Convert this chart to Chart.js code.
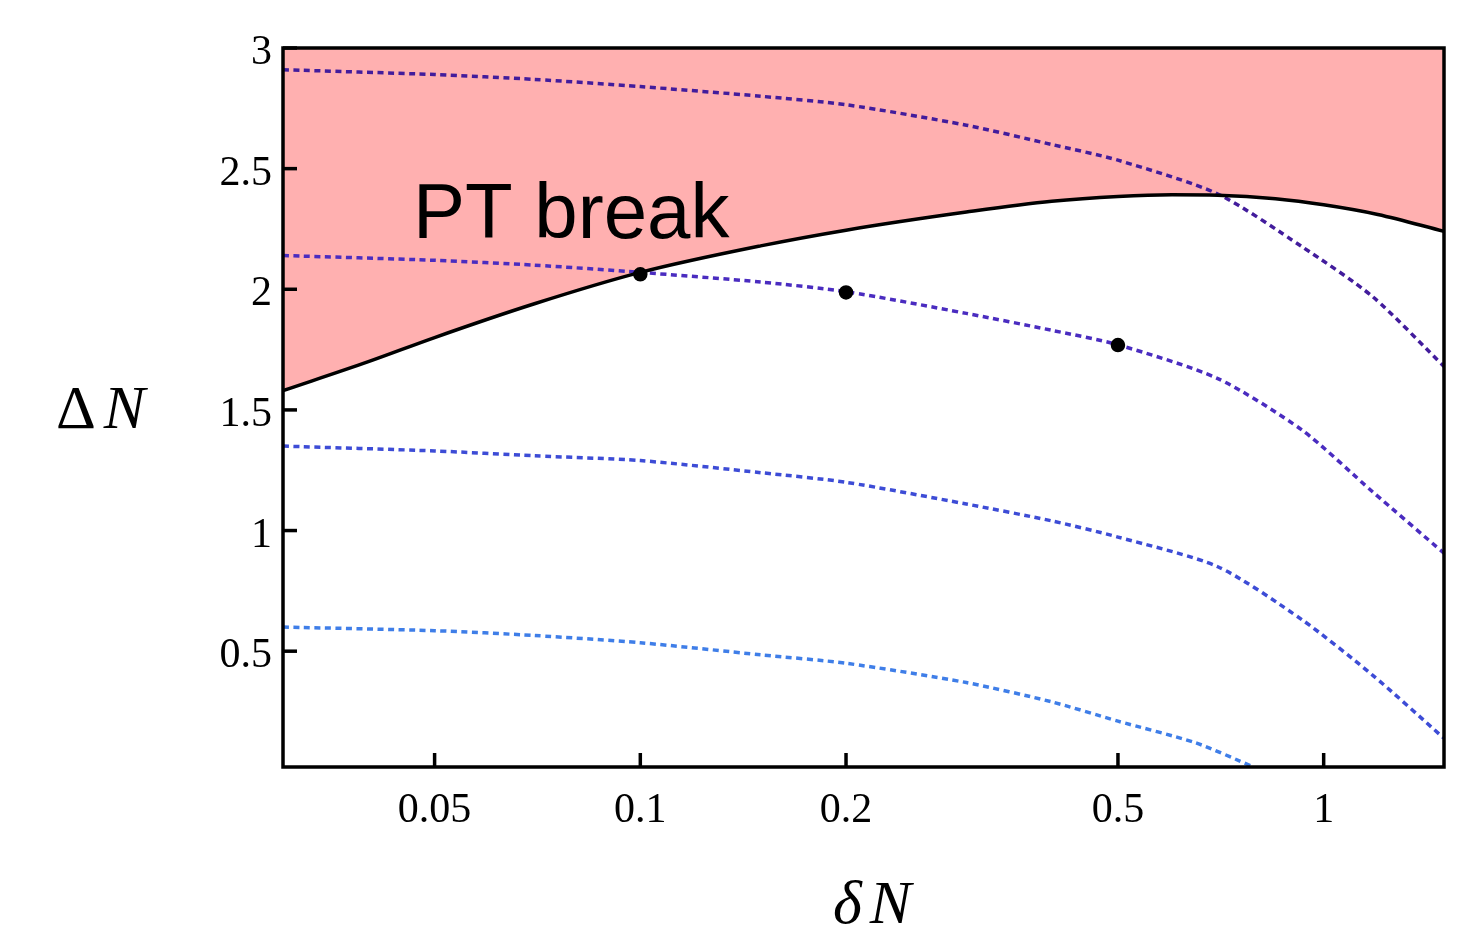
<!DOCTYPE html>
<html>
<head>
<meta charset="utf-8">
<script src="https://cdn.jsdelivr.net/npm/chart.js@4.4.1/dist/chart.umd.min.js"></script>
<style>
  body { margin: 0; background: #fff; }
  canvas { display: block; }
</style>
</head>
<body>
<canvas id="ptChart" width="1484" height="934"></canvas>
<script>
// x positions (delta N) and curves
const boundaryX = [0.03, 0.04, 0.05, 0.07, 0.1, 0.15, 0.2, 0.3, 0.4, 0.5, 0.6, 0.7, 0.85, 1.0, 1.2, 1.5];
const boundaryY = [1.58, 1.70, 1.80, 1.94, 2.07, 2.18, 2.245, 2.32, 2.365, 2.385, 2.392, 2.39, 2.375, 2.35, 2.31, 2.24];

const curveX = [0.03, 0.05, 0.07, 0.1, 0.15, 0.2, 0.3, 0.4, 0.5, 0.7, 0.93, 1.18, 1.5];
const curve1Y = [2.91, 2.89, 2.87, 2.84, 2.80, 2.765, 2.68, 2.60, 2.535, 2.395, 2.176, 1.969, 1.68];
const curve2Y = [2.14, 2.12, 2.10, 2.07, 2.03, 1.99, 1.90, 1.83, 1.77, 1.63, 1.416, 1.16, 0.906];
const curve3Y = [1.35, 1.33, 1.31, 1.29, 1.24, 1.20, 1.11, 1.04, 0.973, 0.85, 0.63, 0.40, 0.139];

const curve4X = [0.03, 0.05, 0.07, 0.1, 0.15, 0.2, 0.3, 0.4, 0.5, 0.65, 0.79];
const curve4Y = [0.60, 0.585, 0.565, 0.535, 0.485, 0.45, 0.37, 0.29, 0.21, 0.12, 0.02];

const dotX = [0.1, 0.2, 0.5];
const dotY = [2.062, 1.987, 1.769];

const xTicks = [0.05, 0.1, 0.2, 0.5, 1];
const xTickLabels = ['0.05', '0.1', '0.2', '0.5', '1'];
const yTicks = [0.5, 1, 1.5, 2, 2.5, 3];
const yTickLabels = ['0.5', '1', '1.5', '2', '2.5', '3'];

const lineColors = ['#421c9c', '#4a2cc0', '#3d4cd6', '#3f7ee8'];

const pts = (xs, ys) => xs.map((x, i) => ({ x: x, y: ys[i] }));

function dotted(data, color) {
  return {
    type: 'line',
    data: data,
    borderColor: color,
    borderWidth: 3.5,
    borderDash: [6, 4.5],
    pointRadius: 0,
    tension: 0.25,
    fill: false
  };
}

// inward ticks, frame and text labels
const framePlugin = {
  id: 'frame',
  afterDatasetsDraw(chart) {
    const ctx = chart.ctx;
    const a = chart.chartArea;
    const xs = chart.scales.x;
    const ys = chart.scales.y;
    ctx.save();
    ctx.strokeStyle = '#000';
    ctx.lineWidth = 3.5;
    xTicks.forEach(v => {
      const px = xs.getPixelForValue(v);
      ctx.beginPath();
      ctx.moveTo(px, a.bottom);
      ctx.lineTo(px, a.bottom - 14);
      ctx.stroke();
    });
    yTicks.forEach(v => {
      const py = ys.getPixelForValue(v);
      ctx.beginPath();
      ctx.moveTo(a.left, py);
      ctx.lineTo(a.left + 14, py);
      ctx.stroke();
    });
    ctx.strokeRect(a.left, a.top, a.right - a.left, a.bottom - a.top);

    ctx.fillStyle = '#000';
    ctx.textBaseline = 'alphabetic';
    ctx.font = '78px "Liberation Sans", Arial, sans-serif';
    ctx.fillText('PT break', 413, 238);

    // axis titles: upright Greek capital, italic N
    ctx.font = '62px "Liberation Serif", serif';
    ctx.fillText('\u0394', 56, 428);
    const dw = ctx.measureText('\u0394').width;
    ctx.font = 'italic 62px "Liberation Serif", serif';
    ctx.fillText('N', 56 + dw + 8, 428);

    ctx.fillText('\u03b4', 833, 923);
    const sw = ctx.measureText('\u03b4').width;
    ctx.fillText('N', 833 + sw + 8, 923);
    ctx.restore();
  }
};

const tickFont = { family: '"Liberation Serif", serif', size: 42 };

new Chart(document.getElementById('ptChart'), {
  type: 'line',
  data: {
    datasets: [
      {
        type: 'scatter',
        data: pts(dotX, dotY),
        backgroundColor: '#000',
        borderColor: '#000',
        borderWidth: 1.5,
        pointRadius: 6.5,
        pointHoverRadius: 6.5
      },
      {
        type: 'line',
        data: pts(boundaryX, boundaryY),
        borderColor: '#000',
        borderWidth: 3.5,
        backgroundColor: '#ffb0b0',
        pointRadius: 0,
        cubicInterpolationMode: 'monotone',
        fill: 'end'
      },
      dotted(pts(curveX, curve1Y), lineColors[0]),
      dotted(pts(curveX, curve2Y), lineColors[1]),
      dotted(pts(curveX, curve3Y), lineColors[2]),
      dotted(pts(curve4X, curve4Y), lineColors[3])
    ]
  },
  options: {
    responsive: false,
    animation: false,
    layout: { padding: { left: 0, right: 40, top: 48, bottom: 0 } },
    plugins: {
      legend: { display: false },
      tooltip: { enabled: false },
      filler: { drawTime: 'beforeDatasetsDraw' }
    },
    scales: {
      x: {
        type: 'logarithmic',
        min: 0.03,
        max: 1.5,
        grid: { display: false },
        border: { display: false },
        afterBuildTicks: (scale) => { scale.ticks = xTicks.map(v => ({ value: v })); },
        afterFit: (scale) => { scale.height = 167; },
        ticks: {
          autoSkip: false,
          maxRotation: 0,
          padding: 11,
          color: '#000',
          font: tickFont,
          callback: (v) => xTickLabels[xTicks.indexOf(v)]
        }
      },
      y: {
        type: 'linear',
        min: 0.02,
        max: 3,
        grid: { display: false },
        border: { display: false },
        afterBuildTicks: (scale) => { scale.ticks = yTicks.map(v => ({ value: v })); },
        afterFit: (scale) => { scale.width = 283; },
        ticks: {
          padding: 3,
          labelOffset: 5,
          color: '#000',
          font: tickFont,
          callback: (v) => yTickLabels[yTicks.indexOf(v)]
        }
      }
    }
  },
  plugins: [framePlugin]
});
</script>
</body>
</html>
